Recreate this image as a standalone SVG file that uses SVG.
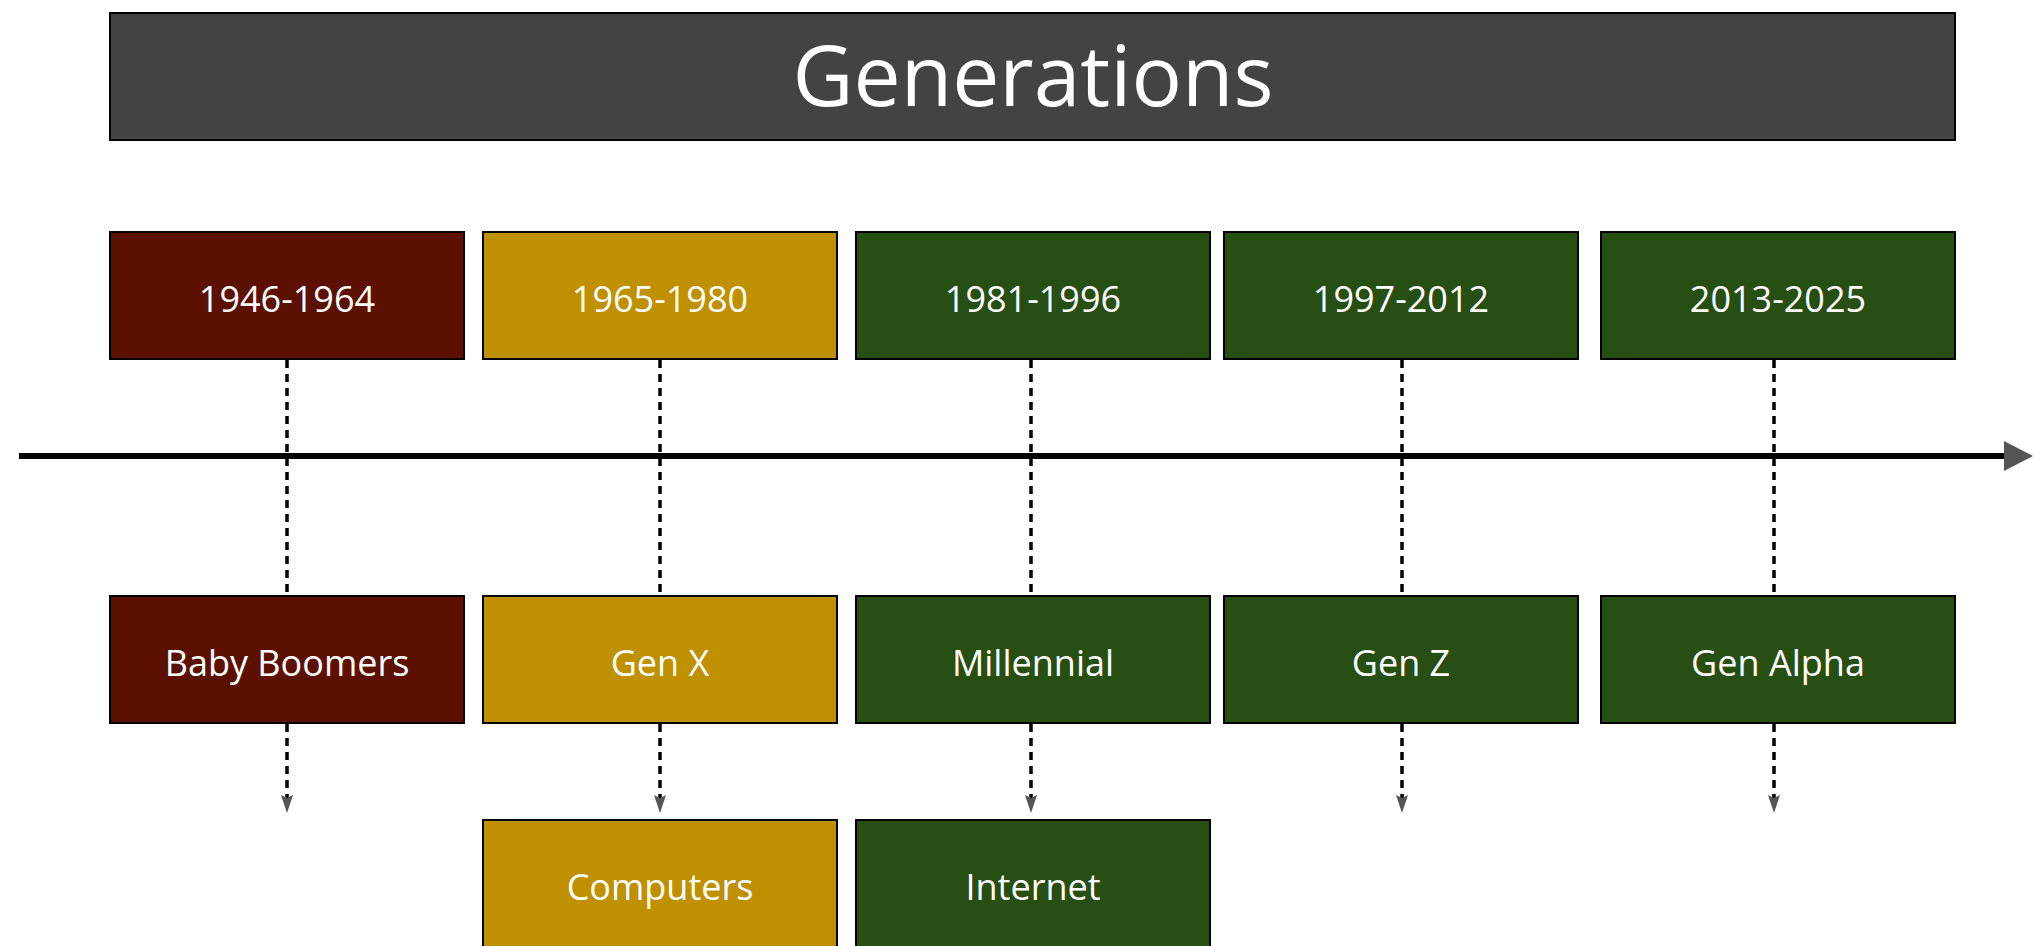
<svg xmlns="http://www.w3.org/2000/svg" width="2033" height="946" viewBox="0 0 2033 946">
<style>
.box{stroke:#000;stroke-width:2}
.red{fill:#5C1000}
.gold{fill:#BF9000}
.green{fill:#274E13}
.t{font-family:"Open Sans","Liberation Sans",sans-serif;fill:#fff;text-anchor:middle;font-size:36px}
.title{font-size:84px}
.dash{stroke:#000;stroke-width:3.5;stroke-dasharray:8 6;fill:none}
.ah{fill:#555}
</style>
<rect width="2033" height="946" fill="#fff"/>
<g id="title">
<rect class="box" x="110" y="13" width="1845" height="127" fill="#434343"/>
<text class="t title" x="1033" y="106">Generations</text>
</g>
<g id="connectors">
<line x1="19" y1="456" x2="2006" y2="456" stroke="#000" stroke-width="6"/>
<polygon points="2004,441 2033,456 2004,471" fill="#555"/>
<line class="dash" x1="287" y1="360" x2="287" y2="596"/>
<line class="dash" x1="660" y1="360" x2="660" y2="596"/>
<line class="dash" x1="1031" y1="360" x2="1031" y2="596"/>
<line class="dash" x1="1402" y1="360" x2="1402" y2="596"/>
<line class="dash" x1="1774" y1="360" x2="1774" y2="596"/>
<line class="dash" x1="287" y1="724" x2="287" y2="798"/>
<line class="dash" x1="660" y1="724" x2="660" y2="798"/>
<line class="dash" x1="1031" y1="724" x2="1031" y2="798"/>
<line class="dash" x1="1402" y1="724" x2="1402" y2="798"/>
<line class="dash" x1="1774" y1="724" x2="1774" y2="798"/>
<polygon class="ah" points="281,795 287,798 293,795 287,813"/>
<polygon class="ah" points="654,795 660,798 666,795 660,813"/>
<polygon class="ah" points="1025,795 1031,798 1037,795 1031,813"/>
<polygon class="ah" points="1396,795 1402,798 1408,795 1402,813"/>
<polygon class="ah" points="1768,795 1774,798 1780,795 1774,813"/>
</g>
<g id="d1946"><rect class="box red" x="110" y="232" width="354" height="127"/><text class="t" x="287" y="312">1946-1964</text></g>
<g id="d1965"><rect class="box gold" x="483" y="232" width="354" height="127"/><text class="t" x="660" y="312">1965-1980</text></g>
<g id="d1981"><rect class="box green" x="856" y="232" width="354" height="127"/><text class="t" x="1033" y="312">1981-1996</text></g>
<g id="d1997"><rect class="box green" x="1224" y="232" width="354" height="127"/><text class="t" x="1401" y="312">1997-2012</text></g>
<g id="d2013"><rect class="box green" x="1601" y="232" width="354" height="127"/><text class="t" x="1778" y="312">2013-2025</text></g>
<g id="boomers"><rect class="box red" x="110" y="596" width="354" height="127"/><text class="t" x="287" y="676">Baby Boomers</text></g>
<g id="genx"><rect class="box gold" x="483" y="596" width="354" height="127"/><text class="t" x="660" y="676">Gen X</text></g>
<g id="millennial"><rect class="box green" x="856" y="596" width="354" height="127"/><text class="t" x="1033" y="676">Millennial</text></g>
<g id="genz"><rect class="box green" x="1224" y="596" width="354" height="127"/><text class="t" x="1401" y="676">Gen Z</text></g>
<g id="genalpha"><rect class="box green" x="1601" y="596" width="354" height="127"/><text class="t" x="1778" y="676">Gen Alpha</text></g>
<g id="computers"><rect class="box gold" x="483" y="820" width="354" height="140"/><text class="t" x="660" y="900">Computers</text></g>
<g id="internet"><rect class="box green" x="856" y="820" width="354" height="140"/><text class="t" x="1033" y="900">Internet</text></g>
</svg>
